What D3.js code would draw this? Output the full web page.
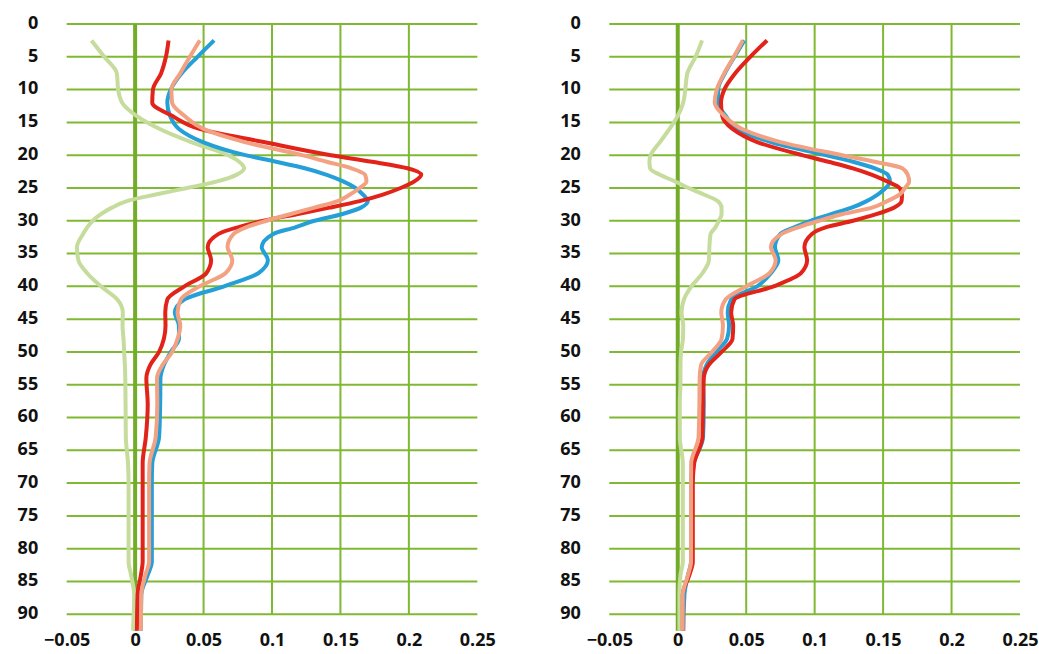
<!DOCTYPE html>
<html>
<head>
<meta charset="utf-8">
<script src="https://cdn.jsdelivr.net/npm/d3@7"></script>
<style>
  body { margin: 0; background: #fff; }
  svg text { font-family: "Open Sans", sans-serif; font-weight: 700; font-size: 18px; fill: #111; }
</style>
</head>
<body>
<div id="chart"></div>
<script>
// depth levels (y) shared by every profile
var depth = [2.5, 5, 7.5, 10, 12, 14, 16, 18, 20, 21, 22, 23, 24, 25, 26, 27, 28, 29, 30, 31, 32, 34, 36, 38, 40, 42, 44, 46, 48, 50, 52, 54, 58, 63, 67, 70, 82, 84, 87, 92.5];

// left panel
var leftGreen = [-0.0319, -0.0226, -0.0134, -0.0124, -0.0095, 0.001, 0.018, 0.041, 0.068, 0.076, 0.0796, 0.074, 0.060, 0.038, 0.015, -0.006, -0.017, -0.025, -0.031, -0.035, -0.038, -0.0425, -0.0415, -0.035, -0.025, -0.013, -0.009, -0.0092, -0.0085, -0.008, -0.0075, -0.0072, -0.007, -0.0068, -0.0052, -0.0048, -0.0048, -0.003, -0.0007, -0.0015];
var leftBlue = [0.0577, 0.0456, 0.034, 0.026, 0.0235, 0.0255, 0.032, 0.0495, 0.0805, 0.103, 0.124, 0.140, 0.152, 0.161, 0.1665, 0.170, 0.165, 0.151, 0.131, 0.117, 0.101, 0.0925, 0.097, 0.090, 0.065, 0.036, 0.029, 0.032, 0.032, 0.026, 0.021, 0.0185, 0.0183, 0.0175, 0.0125, 0.0122, 0.0122, 0.0092, 0.0045, 0.0042];
var leftRed = [0.0244, 0.0225, 0.019, 0.013, 0.0125, 0.027, 0.047, 0.094, 0.143, 0.173, 0.199, 0.209, 0.204, 0.194, 0.181, 0.164, 0.142, 0.118, 0.094, 0.075, 0.061, 0.053, 0.0555, 0.052, 0.036, 0.0235, 0.022, 0.0222, 0.021, 0.0175, 0.011, 0.0082, 0.0092, 0.0078, 0.0055, 0.0055, 0.0055, 0.0042, 0.0018, 0.0013];
var leftSalmon = [0.0473, 0.040, 0.033, 0.0265, 0.027, 0.036, 0.050, 0.080, 0.122, 0.140, 0.158, 0.168, 0.169, 0.164, 0.157, 0.148, 0.131, 0.113, 0.096, 0.081, 0.072, 0.0675, 0.071, 0.066, 0.047, 0.0334, 0.031, 0.033, 0.031, 0.027, 0.020, 0.016, 0.0162, 0.015, 0.0105, 0.0102, 0.0102, 0.0075, 0.0045, 0.0042];

// right panel
var rightGreen = [0.0178, 0.013, 0.007, 0.0055, 0.004, 0.0, -0.006, -0.013, -0.0198, -0.0207, -0.0202, -0.013, -0.002, 0.008, 0.019, 0.0292, 0.032, 0.032, 0.030, 0.0275, 0.024, 0.0231, 0.0228, 0.018, 0.010, 0.0045, 0.0028, 0.004, 0.0038, 0.0024, 0.002, 0.002, 0.0015, 0.0015, 0.0037, 0.0037, 0.0037, 0.002, 0.0012, 0.0012];
var rightBlue = [0.0487, 0.0414, 0.0345, 0.0295, 0.0295, 0.035, 0.044, 0.068, 0.108, 0.128, 0.144, 0.1535, 0.155, 0.152, 0.146, 0.138, 0.127, 0.112, 0.097, 0.085, 0.075, 0.071, 0.0735, 0.068, 0.058, 0.039, 0.0365, 0.0375, 0.036, 0.028, 0.021, 0.0185, 0.019, 0.0185, 0.0115, 0.0097, 0.0097, 0.0075, 0.0049, 0.0041];
var rightRed = [0.0652, 0.053, 0.042, 0.034, 0.0316, 0.0325, 0.040, 0.058, 0.091, 0.110, 0.128, 0.142, 0.153, 0.162, 0.1638, 0.1635, 0.158, 0.145, 0.128, 0.108, 0.098, 0.0925, 0.0945, 0.090, 0.070, 0.0414, 0.039, 0.0405, 0.040, 0.032, 0.0225, 0.019, 0.0185, 0.018, 0.012, 0.011, 0.011, 0.0085, 0.0037, 0.0037];
var rightSalmon = [0.0475, 0.041, 0.034, 0.0285, 0.027, 0.034, 0.047, 0.075, 0.120, 0.1437, 0.164, 0.168, 0.169, 0.166, 0.162, 0.153, 0.142, 0.120, 0.103, 0.088, 0.076, 0.068, 0.0715, 0.067, 0.050, 0.035, 0.0318, 0.033, 0.032, 0.025, 0.017, 0.016, 0.0158, 0.0152, 0.0098, 0.0097, 0.0097, 0.0075, 0.0037, 0.0036];

var xTicks = [-0.05, 0, 0.05, 0.1, 0.15, 0.2, 0.25];
var yTicks = d3.range(0, 91, 5);

var colors = { green: '#c5dc9c', blue: '#259fd8', red: '#e2231a', salmon: '#f2a282' };
var gridColor = '#7fb832';
var zeroColor = '#73ac28';

var width = 1039, height = 654;

var panels = [
  { x0: 66.7, x1: 477.3, series: [[leftGreen, 'green'], [leftBlue, 'blue'], [leftRed, 'red'], [leftSalmon, 'salmon']] },
  { x0: 609.3, x1: 1020, series: [[rightGreen, 'green'], [rightBlue, 'blue'], [rightRed, 'red'], [rightSalmon, 'salmon']] }
];

var svg = d3.select('#chart').append('svg')
  .attr('width', width)
  .attr('height', height);

var y = d3.scaleLinear().domain([0, 90]).range([24, 614.3]);

panels.forEach(function (p) {
  var x = d3.scaleLinear().domain([-0.05, 0.25]).range([p.x0, p.x1]);
  var g = svg.append('g');

  // horizontal grid
  g.selectAll('.hgrid')
    .data(yTicks)
    .enter().append('line')
    .attr('x1', p.x0).attr('x2', p.x1)
    .attr('y1', function (d) { return y(d); })
    .attr('y2', function (d) { return y(d); })
    .attr('stroke', gridColor)
    .attr('stroke-width', 2);

  // vertical grid (no lines at the domain ends)
  g.selectAll('.vgrid')
    .data(xTicks.filter(function (d) { return d > 0 && d < 0.25; }))
    .enter().append('line')
    .attr('x1', function (d) { return x(d); })
    .attr('x2', function (d) { return x(d); })
    .attr('y1', y(0)).attr('y2', y(90))
    .attr('stroke', gridColor)
    .attr('stroke-width', 2);

  // zero line
  g.append('line')
    .attr('x1', x(0)).attr('x2', x(0))
    .attr('y1', y(0)).attr('y2', y(92.5))
    .attr('stroke', zeroColor)
    .attr('stroke-width', 4);

  // profiles
  var line = d3.line()
    .x(function (d) { return x(d[1]); })
    .y(function (d) { return y(d[0]); })
    .curve(d3.curveMonotoneY);

  p.series.forEach(function (s) {
    g.append('path')
      .datum(d3.zip(depth, s[0]))
      .attr('d', line)
      .attr('fill', 'none')
      .attr('stroke', colors[s[1]])
      .attr('stroke-width', 4)
      .attr('stroke-linejoin', 'round');
  });

  // axes
  var yAxis = g.append('g')
    .attr('transform', 'translate(' + (p.x0 - 28.5) + ',-2)')
    .call(d3.axisLeft(y).tickValues(yTicks).tickSize(0).tickPadding(0));
  var xAxis = g.append('g')
    .attr('transform', 'translate(0,633)')
    .call(d3.axisBottom(x).tickValues(xTicks).tickSize(0).tickPadding(0).tickFormat(d3.format('')));
  [yAxis, xAxis].forEach(function (a) {
    a.select('.domain').remove();
    a.selectAll('text').attr('fill', '#111').style('font-size', '18px').style('font-family', '"Open Sans", sans-serif').style('font-weight', 700);
  });
  yAxis.selectAll('text').attr('dy', '0.35em');
});
</script>
</body>
</html>
